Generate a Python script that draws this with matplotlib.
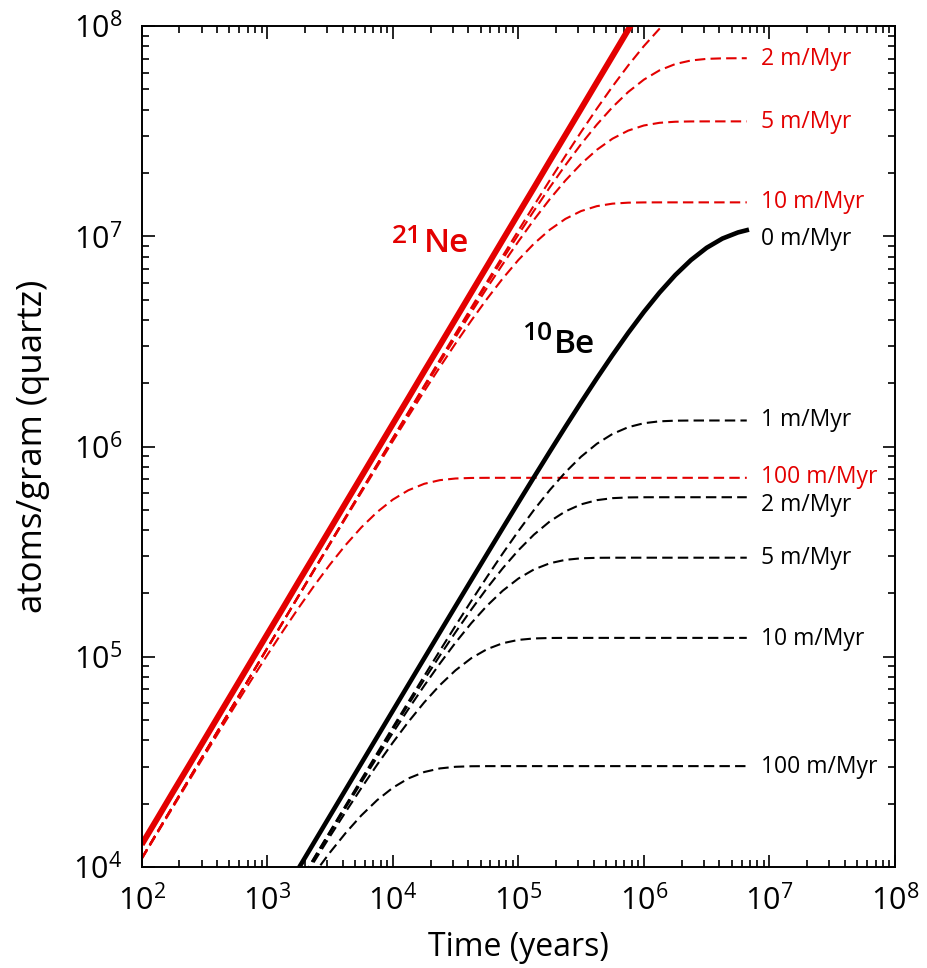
"""Cosmogenic 21Ne and 10Be build-up in quartz for several erosion rates."""

import matplotlib
matplotlib.use("Agg")
import matplotlib.pyplot as plt

plt.rcParams['font.family'] = ['Open Sans', 'DejaVu Sans']
plt.rcParams['mathtext.fontset'] = 'custom'
plt.rcParams['mathtext.rm'] = 'Open Sans'

RED = '#e30000'

# Exposure time grid (years), eighth decades
years = [100, 133, 178, 237, 316, 422, 562, 750,
         1e3, 1.33e3, 1.78e3, 2.37e3, 3.16e3, 4.22e3, 5.62e3, 7.5e3,
         1e4, 1.33e4, 1.78e4, 2.37e4, 3.16e4, 4.22e4, 5.62e4, 7.5e4,
         1e5, 1.33e5, 1.78e5, 2.37e5, 3.16e5, 4.22e5, 5.62e5, 7.5e5,
         1e6, 1.33e6, 1.78e6, 2.37e6, 3.16e6, 4.22e6, 5.62e6, 6.6e6]

# 21Ne (atoms/g): no erosion, then 1, 2, 5, 10 and 100 m/Myr
ne_0 = [1.28e4, 1.70e4, 2.28e4, 3.03e4, 4.04e4, 5.40e4, 7.19e4, 9.60e4,
        1.28e5, 1.70e5, 2.28e5, 3.03e5, 4.04e5, 5.40e5, 7.19e5, 9.60e5,
        1.28e6, 1.70e6, 2.28e6, 3.03e6, 4.04e6, 5.40e6, 7.19e6, 9.60e6,
        1.28e7, 1.70e7, 2.28e7, 3.03e7, 4.04e7, 5.40e7, 7.19e7, 9.60e7,
        1.28e8]
ne_1 = [11000, 14630, 19580, 26070, 34760, 46413, 61808, 82479,
        109963, 146235, 195684, 260494, 347230, 463547, 617040, 822941,
        1.0963e6, 1.45657e6, 1.9465e6, 2.58652e6, 3.440e6, 4.5773e6, 6.068e6,
        8.0471e6, 1.0641e7, 1.4e7, 1.8464e7, 2.4114e7, 3.134e7, 4.0462e7,
        5.156e7, 6.4922e7, 8.029e7, 9.7016e7, 1.1464e8]
ne_2 = [11000, 14628, 19580, 26065, 34750, 46405, 61800, 82452,
        109910, 146148, 195530, 260217, 346740, 462671, 615490, 820148,
        1.0914e6, 1.4479e6, 1.931e6, 2.5592e6, 3.391e6, 4.492e6, 5.918e6,
        7.7842e6, 1.0182e7, 1.32078e7, 1.7089e7, 2.17819e7, 2.7425e7,
        3.39764e7, 4.112e7, 4.85581e7, 5.560e7, 6.15266e7, 6.596e7,
        6.85763e7, 6.980e7, 7.02046e7, 7.029e7, 7.03e7]
ne_5 = [10998, 14627, 19570, 26060, 34740, 46389, 61770, 82403,
        109830, 145996, 195260, 259737, 345890, 461169, 612820, 815426,
        1.083e6, 1.43303e6, 1.9045e6, 2.51282e6, 3.310e6, 4.34896e6, 5.670e6,
        7.35448e6, 9.447e6, 1.19706e7, 1.5019e7, 1.84161e7, 2.2087e7,
        2.57851e7, 2.912e7, 3.1822e7, 3.3653e7, 3.46486e7, 3.5065e7,
        3.51786e7, 3.5198e7, 3.52e7, 3.52e7, 3.52e7]
ne_10 = [10996, 14623, 19570, 26047, 34718, 46346, 61688, 82266,
         109584, 145584, 194506, 258409, 343505, 456910, 605288, 802068,
         1.0594e6, 1.3918e6, 1.8318e6, 2.38638e6, 3.0909e6, 3.97275e6,
         5.0335e6, 6.29204e6, 7.710e6, 9.2141e6, 1.0743e7, 1.20988e7,
         1.3181e7, 1.391e7, 1.4296e7, 1.4451e7, 1.4493e7, 1.4499e7,
         1.45e7, 1.45e7, 1.45e7, 1.45e7, 1.45e7, 1.45e7]
ne_100 = [10914, 14479, 19312, 25596, 33921, 44932, 59201, 77883,
          101897, 132203, 171111, 218182, 274851, 340738, 412730, 487845,
          559177, 619545, 664952, 691940, 704691, 708971, 709882, 7.1e5,
          7.1e5, 7.1e5, 7.1e5, 7.1e5, 7.1e5, 7.1e5, 7.1e5, 7.1e5,
          7.1e5, 7.1e5, 7.1e5, 7.1e5, 7.1e5, 7.1e5, 7.1e5, 7.1e5]

# 10Be (atoms/g): no erosion, then 1, 2, 5, 10 and 100 m/Myr
be_0 = [555, 738, 988, 1315, 1754, 2342, 3119, 4162,
        5549, 7379, 9874, 13146, 17524, 23396, 31147, 41547,
        55361, 73570, 98352, 130759, 174002, 231757, 307567, 408547,
        541354, 714141, 945128, 1.2404e6, 1.6222e6, 2.11151e6, 2.7192e6,
        3.47109e6, 4.3675e6, 5.39157e6, 6.5417e6, 7.70622e6, 8.8137e6,
        9.75426e6, 1.04317e7, 1.06906e7]
be_1 = [470, 625, 836, 1113, 1484, 1982, 2639, 3520,
        4692, 6236, 8340, 11093, 14768, 19686, 26152, 34785,
        46176, 61059, 81078, 106846, 140513, 184248, 239546, 309633,
        395844, 498718, 620917, 754361, 894593, 1.0306e6, 1.14746e6,
        1.23605e6, 1.29116e6, 1.3179e6, 1.32753e6, 1.32969e6, 1.33e6,
        1.33e6, 1.33e6, 1.33e6]
be_2 = [470, 625, 836, 1113, 1483, 1980, 2635, 3514,
        4681, 6217, 8305, 11031, 14661, 19495, 25815, 34189,
        45126, 59226, 77848, 101247, 130858, 167698, 211698, 263393,
        320898, 380820, 440344, 491560, 530835, 555875, 568240, 572764,
        573840, 5.74e5, 5.74e5, 5.74e5, 5.74e5, 5.74e5, 5.74e5, 5.74e5]
be_5 = [470, 624, 836, 1112, 1481, 1977, 2629, 3504,
        4663, 6185, 8249, 10932, 14485, 19184, 25268, 33232,
        43458, 56350, 72877, 92830, 116783, 144544, 174732, 206029,
        235507, 260179, 278466, 289130, 294040, 295636, 295960, 2.96e5,
        2.96e5, 2.96e5, 2.96e5, 2.96e5, 2.96e5, 2.96e5, 2.96e5, 2.96e5]
be_10 = [469, 624, 834, 1109, 1476, 1968, 2613, 3475,
         4611, 6095, 8088, 10650, 13990, 18318, 23767, 30649,
         39067, 49007, 60696, 73272, 86229, 98476, 108638, 115997,
         120305, 122236, 122863, 1.23e5, 1.23e5, 1.23e5, 1.23e5, 1.23e5,
         1.23e5, 1.23e5, 1.23e5, 1.23e5, 1.23e5, 1.23e5, 1.23e5, 1.23e5]
be_100 = [466, 619, 825, 1094, 1449, 1920, 2529, 3327,
          4352, 5646, 7307, 9315, 11732, 14540, 17605, 20800,
          23830, 26388, 28308, 29444, 29979, 30158, 30195, 3.02e4,
          3.02e4, 3.02e4, 3.02e4, 3.02e4, 3.02e4, 3.02e4, 3.02e4, 3.02e4,
          3.02e4, 3.02e4, 3.02e4, 3.02e4, 3.02e4, 3.02e4, 3.02e4, 3.02e4]

# Curve labels at the right-hand end
lab_text = ['2 m/Myr', '5 m/Myr', '10 m/Myr', '0 m/Myr', '1 m/Myr',
            '100 m/Myr', '2 m/Myr', '5 m/Myr', '10 m/Myr', '100 m/Myr']
lab_y = [7.0e7, 3.5e7, 1.45e7, 9.7e6, 1.33e6, 7.2e5, 5.25e5, 2.95e5,
         1.22e5, 3.0e4]
lab_color = [RED, RED, RED, 'k', 'k', RED, 'k', 'k', 'k', 'k']
lab_x = 8.5e6

x_ticks = [1e2, 1e3, 1e4, 1e5, 1e6, 1e7, 1e8]
y_ticks = [1e4, 1e5, 1e6, 1e7, 1e8]

# =============================================================================
fig = plt.figure(figsize=(9.28, 9.68), dpi=100)
ax = fig.add_axes([0.1527, 0.1043, 0.8117, 0.8688])

DASH = (0, (5, 2.5))

ax.plot(years[:len(ne_0)], ne_0, color=RED, lw=4.3, solid_capstyle='butt')
for n in [ne_1, ne_2, ne_5, ne_10, ne_100]:
    ax.plot(years[:len(n)], n, color=RED, lw=1.5, linestyle=DASH)

ax.plot(years, be_0, color='k', lw=3.3)
for n in [be_1, be_2, be_5, be_10, be_100]:
    ax.plot(years, n, color='k', lw=1.5, linestyle=DASH)

for s, y, c in zip(lab_text, lab_y, lab_color):
    ax.text(lab_x, y, s, color=c, fontsize=16.5, ha='left', va='center')

# Nuclide names
ax.annotate('Ne', xy=(9.9e3, 8.44e6), xytext=(23, 0), textcoords='offset points',
            color=RED, fontsize=24, fontweight='semibold', ha='left', va='baseline')
ax.annotate('21', xy=(9.9e3, 8.44e6), xytext=(0, 6.5), textcoords='offset points',
            color=RED, fontsize=19, fontweight='semibold', ha='left', va='baseline')
ax.annotate('Be', xy=(1.074e5, 2.79e6), xytext=(23, 0), textcoords='offset points',
            color='k', fontsize=24, fontweight='semibold', ha='left', va='baseline')
ax.annotate('10', xy=(1.074e5, 2.79e6), xytext=(0, 9.4), textcoords='offset points',
            color='k', fontsize=19, fontweight='semibold', ha='left', va='baseline')

ax.set_xscale('log')
ax.set_yscale('log')
ax.set_xticks(x_ticks)
ax.set_yticks(y_ticks)
ax.set_xlim(1e2, 1e8)
ax.set_ylim(1e4, 1e8)

ax.tick_params(which='both', direction='in', top=True, right=True,
               labelsize=22, width=1.2)
ax.tick_params(which='major', length=9)
ax.tick_params(which='minor', length=5)
ax.tick_params(axis='x', pad=13)
ax.tick_params(axis='y', pad=14)
for sp in ax.spines.values():
    sp.set_linewidth(1.4)

ax.set_xlabel('Time (years)', fontsize=23)
ax.set_ylabel('atoms/gram (quartz)', fontsize=25)
ax.xaxis.set_label_coords(0.5, -0.076)
ax.yaxis.set_label_coords(-0.122, 0.5)

fig.savefig('out.png', dpi=100)
